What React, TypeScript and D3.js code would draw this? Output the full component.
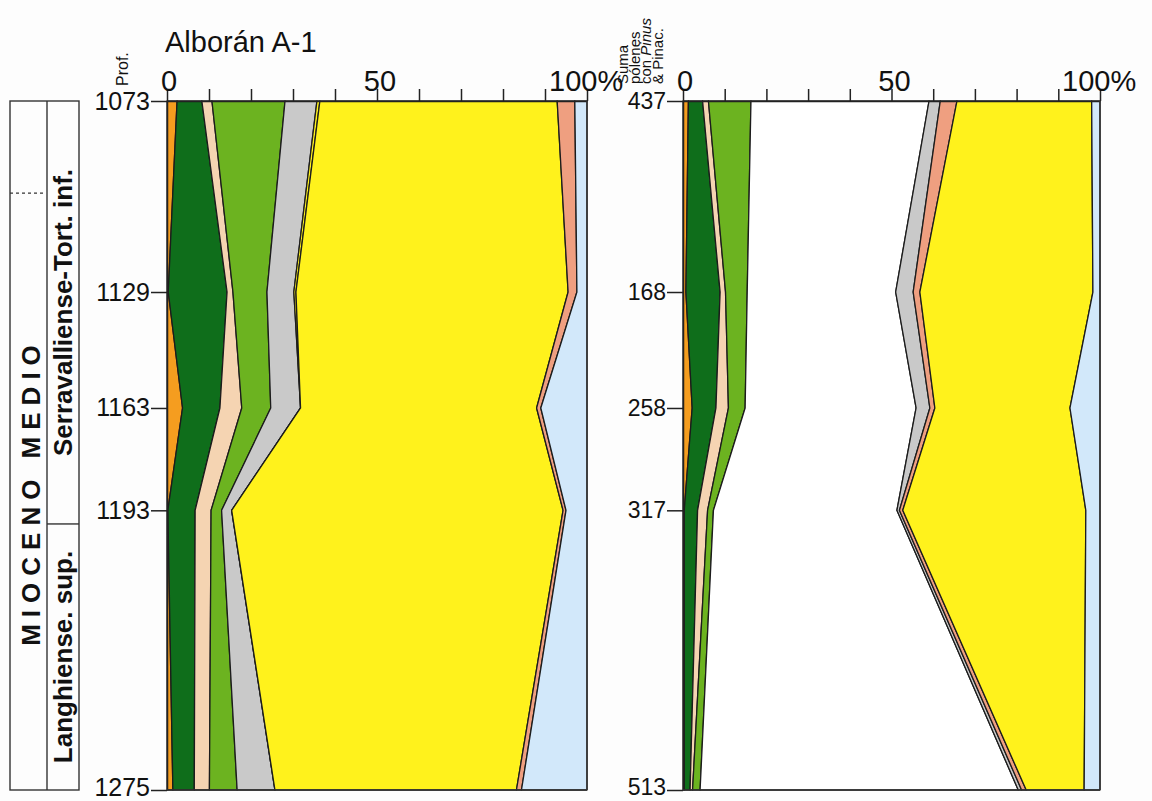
import React, { useRef, useEffect } from "react";
import * as d3 from "d3";

// depths (m) of the samples, and pollen sums for the right diagram
const depths = [1073, 1129, 1163, 1193, 1275];
const pollenSums = ["437", "168", "258", "317", "513"];
const pctTicks = [0, 10, 20, 30, 40, 50, 60, 70, 80, 90, 100];

// chrono-strat boundaries (depth)
const dashedBoundary = 1100;
const langhianTop = 1197;

// left diagram (%), one value per depth
const aOrange = [2.4, 0.3, 3.7, 0.2, 1.4];
const aDarkGreen = [5.9, 14.0, 8.9, 6.5, 5.1];
const aPeach = [2.4, 1.4, 5.2, 3.8, 3.6];
const aLightGreen = [17.4, 8.1, 6.9, 2.5, 6.6];
const aGrey = [7.6, 6.4, 7.1, 2.4, 9.0];
const aSliver = [0.7, 0.5, 0, 0, 0];
const aYellow = [56.5, 64.8, 56.2, 78.9, 57.5];
const aSalmon = [4.2, 2.1, 1.0, 0.7, 1.2];
const aBlue = [2.9, 2.4, 11.0, 5.0, 15.6];

// right diagram (%), sum with Pinus & Pinaceae
const bOrange = [1.3, 0.7, 2.2, 0.3, 0.3];
const bDarkGreen = [3.4, 8.2, 5.7, 3.2, 1.4];
const bPeach = [1.4, 1.3, 3.0, 2.4, 0.6];
const bLightGreen = [10.2, 5.2, 4.0, 1.4, 1.8];
const bPinus = [42.7, 35.6, 41.0, 44.0, 76.3];
const bGrey = [2.7, 4.2, 3.3, 0.6, 0.8];
const bSalmon = [4.0, 1.6, 1.2, 0.8, 1.1];
const bYellow = [32.3, 41.5, 32.4, 43.9, 13.9];
const bBlue = [2.0, 1.7, 7.2, 3.4, 3.8];

const colors: Record<string, string> = {
    orange: "#f59d1f",
    darkGreen: "#0f6e1b",
    peach: "#f5d4b2",
    lightGreen: "#6cb320",
    grey: "#c9c9c9",
    sliver: "#fff21c",
    yellow: "#fff21c",
    salmon: "#ef9f80",
    blue: "#d2e8fa",
    pinus: "#ffffff",
};

const leftKeys = ["orange", "darkGreen", "peach", "lightGreen", "grey", "sliver", "yellow", "salmon", "blue"];
const leftSeries = [aOrange, aDarkGreen, aPeach, aLightGreen, aGrey, aSliver, aYellow, aSalmon, aBlue];
const rightKeys = ["orange", "darkGreen", "peach", "lightGreen", "pinus", "grey", "salmon", "yellow", "blue"];
const rightSeries = [bOrange, bDarkGreen, bPeach, bLightGreen, bPinus, bGrey, bSalmon, bYellow, bBlue];

const FONT = "'Liberation Sans', Arial, Helvetica, sans-serif";

const App: React.FC = () => {
    const ref = useRef<SVGSVGElement | null>(null);

    useEffect(() => {
        const svg = d3.select(ref.current);
        svg.selectAll("*").remove();

        const y = d3.scaleLinear().domain([1073, 1275]).range([101, 790]);
        const top = y(depths[0]);
        const bottom = y(depths[depths.length - 1]);

        const drawPanel = (
            left: number,
            right: number,
            keys: string[],
            series: number[][],
            labels: string[],
            labelSize: number
        ) => {
            const x = d3.scaleLinear().domain([0, 100]).range([left, right]);
            const rows = depths.map((d, i) => {
                const r: any = { depth: d };
                keys.forEach((k, j) => (r[k] = series[j][i]));
                return r;
            });
            const stacked = d3.stack<any>().keys(keys)(rows);
            const area = d3
                .area<any>()
                .y((d) => y(d.data.depth))
                .x0((d) => x(d[0]))
                .x1((d) => x(d[1]));

            const g = svg.append("g");
            g.selectAll("path.layer")
                .data(stacked)
                .enter()
                .append("path")
                .attr("class", "layer")
                .attr("d", area)
                .attr("fill", (d) => colors[d.key])
                .attr("stroke", "#1c1c1c")
                .attr("stroke-width", 1.3)
                .attr("stroke-linejoin", "round");

            // top % axis
            const xAxis = g
                .append("g")
                .attr("transform", `translate(0,${top})`)
                .call(
                    d3
                        .axisTop(x)
                        .tickValues(pctTicks)
                        .tickSize(12)
                        .tickSizeOuter(0)
                        .tickFormat(() => "")
                );
            xAxis.selectAll("path, line").attr("stroke", "#222").attr("stroke-width", 1.5);

            // depth axis
            const yAxis = g
                .append("g")
                .attr("transform", `translate(${left},0)`)
                .call(
                    d3
                        .axisLeft(y)
                        .tickValues(depths)
                        .tickSize(16)
                        .tickSizeOuter(0)
                        .tickPadding(1)
                        .tickFormat((_, i) => labels[i])
                );
            yAxis.selectAll("path, line").attr("stroke", "#222").attr("stroke-width", 1.5);
            yAxis
                .selectAll("text")
                .attr("font-family", FONT)
                .attr("font-size", labelSize)
                .attr("fill", "#111");
            // last label sits on the page edge; lift it a touch
            yAxis.selectAll(".tick:last-of-type text").attr("dy", "0.2em");

            g.append("line")
                .attr("x1", x(100))
                .attr("x2", x(100))
                .attr("y1", top)
                .attr("y2", bottom)
                .attr("stroke", "#333")
                .attr("stroke-width", 1.5);
            g.append("line")
                .attr("x1", x(0))
                .attr("x2", x(100))
                .attr("y1", bottom)
                .attr("y2", bottom)
                .attr("stroke", "#333")
                .attr("stroke-width", 1.5);

            const lab = (t: string, xx: number, anchor: string) =>
                g
                    .append("text")
                    .attr("x", xx)
                    .attr("y", 91)
                    .attr("text-anchor", anchor)
                    .attr("font-family", FONT)
                    .attr("font-size", 29)
                    .attr("fill", "#111")
                    .text(t);
            lab("0", x(0) + 2, "middle");
            lab("50", x(50) + 3, "middle");
            lab("100%", x(100) - 38, "start");
        };

        drawPanel(167, 587, leftKeys, leftSeries, depths.map(String), 25);
        drawPanel(683, 1100, rightKeys, rightSeries, pollenSums, 23);

        // title
        svg.append("text")
            .attr("x", 165)
            .attr("y", 52)
            .attr("font-family", FONT)
            .attr("font-size", 29)
            .attr("fill", "#111")
            .text("Alborán A-1");

        // "Prof."
        svg.append("text")
            .attr("transform", "translate(128,86) rotate(-90)")
            .attr("font-family", FONT)
            .attr("font-size", 16)
            .attr("fill", "#111")
            .text("Prof.");

        // pollen sum header
        const hdr = svg
            .append("g")
            .attr("font-family", FONT)
            .attr("font-size", 15)
            .attr("fill", "#111");
        const hdrLines: [string, string | null][] = [
            ["Suma", null],
            ["pólenes", null],
            ["con ", "Pinus"],
            ["& Pinac.", null],
        ];
        hdrLines.forEach(([a, it], i) => {
            const t = hdr
                .append("text")
                .attr("transform", `translate(${628 + i * 11.5},84) rotate(-90)`);
            t.append("tspan").text(a);
            if (it) t.append("tspan").attr("font-style", "italic").text(it);
        });

        // stratigraphic column
        const col = svg.append("g").attr("stroke", "#333").attr("stroke-width", 1.4).attr("fill", "none");
        col.append("rect").attr("x", 10).attr("y", top).attr("width", 69).attr("height", bottom - top);
        col.append("line").attr("x1", 47).attr("x2", 47).attr("y1", top).attr("y2", bottom);
        col.append("line")
            .attr("x1", 10)
            .attr("x2", 45)
            .attr("y1", y(dashedBoundary))
            .attr("y2", y(dashedBoundary))
            .attr("stroke-dasharray", "3,3");
        col.append("line").attr("x1", 47).attr("x2", 79).attr("y1", y(langhianTop)).attr("y2", y(langhianTop));

        const vText = (t: string, xx: number, yy: number, size: number, spacing: number) =>
            svg
                .append("text")
                .attr("transform", `translate(${xx},${yy}) rotate(-90)`)
                .attr("text-anchor", "middle")
                .attr("font-family", FONT)
                .attr("font-weight", "bold")
                .attr("font-size", size)
                .attr("letter-spacing", spacing)
                .attr("fill", "#111")
                .text(t);
        vText("MIOCENO MEDIO", 40, 492, 26, 7);
        vText("Serravalliense-Tort. inf.", 72, (top + y(langhianTop)) / 2, 26, 0);
        vText("Langhiense. sup.", 72, (y(langhianTop) + bottom) / 2, 26, 0);
    }, []);

    return (
        <svg
            ref={ref}
            width={1152}
            height={801}
            style={{ position: "absolute", left: 0, top: 0, background: "#fdfdfd" }}
        ></svg>
    );
};

export default App;
